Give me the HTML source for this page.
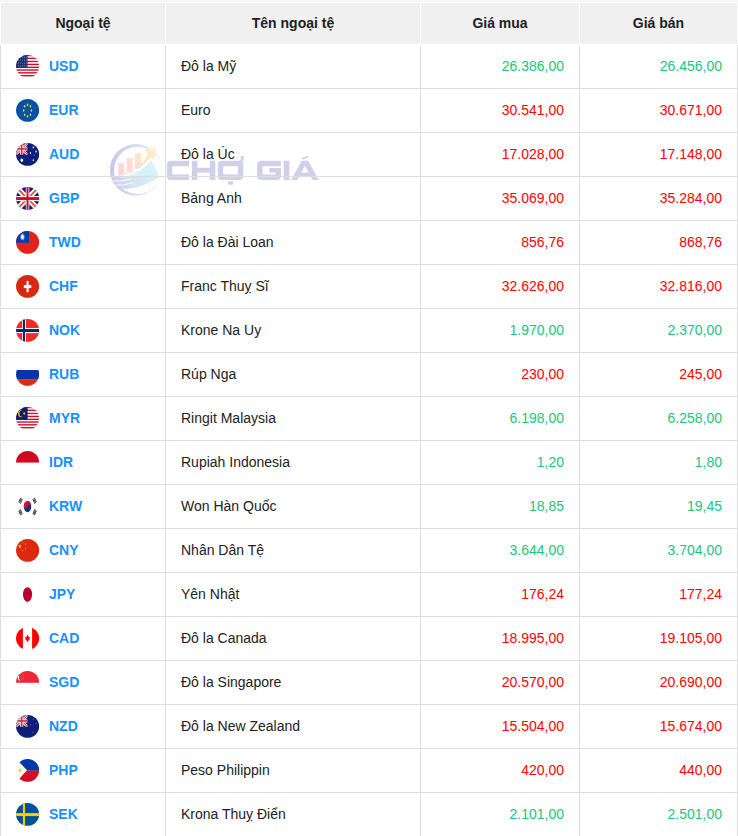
<!DOCTYPE html>
<html lang="vi"><head><meta charset="utf-8"><title>Tỷ giá ngoại tệ</title>
<style>
html,body{margin:0;padding:0;background:#fff;}
body{width:738px;height:836px;overflow:hidden;position:relative;font-family:"Liberation Sans",sans-serif;font-size:14px;color:#222;}
.topstrip{position:absolute;left:0;top:0;width:738px;height:2px;background:#f5f5f5;}
.wrap{position:absolute;left:0;top:2px;width:738px;}
table.tg{position:relative;z-index:1;border-collapse:collapse;table-layout:fixed;width:738px;margin:0;}
col.c1{width:165px}col.c2{width:255px}col.c3{width:159px}col.c4{width:158px}
.tg th{background:#f0f0f0;border:1px solid #fff;height:39px;padding:0 0 2px 0;font-weight:bold;font-size:14px;color:#222;text-align:center;vertical-align:middle;box-sizing:content-box;}
.tg td{border:1px solid #ddd;height:41px;padding:0 15px 2px 15px;vertical-align:middle;box-sizing:content-box;white-space:nowrap;}
.tg td.cc{padding-left:15px;}
.fl{display:inline-block;width:24px;height:24px;vertical-align:middle;margin-right:9px;position:relative;left:0;top:0.5px;}
.fl svg{display:block;width:24px;height:24px;}
.code{font-weight:bold;color:#1890ff;vertical-align:middle;}
.num{text-align:right;}
.g{color:#1cc47e}.r{color:#ff0000}
.wm{position:absolute;left:100px;top:136px;width:230px;height:66px;pointer-events:none;z-index:0;}
.wm svg{display:block;}
</style></head>
<body>
<div class="topstrip"></div>
<div class="wrap">
<table class="tg">
<colgroup><col class="c1"><col class="c2"><col class="c3"><col class="c4"></colgroup>
<thead><tr><th>Ngoại tệ</th><th>Tên ngoại tệ</th><th>Giá mua</th><th>Giá bán</th></tr></thead>
<tbody>
<tr><td class="cc"><span class="fl"><svg viewBox="0.4 -0.35 24 24"><defs><clipPath id="kUSD"><ellipse cx="12" cy="12" rx="11.55" ry="11.4"/></clipPath></defs><g clip-path="url(#kUSD)"><rect x="0" y="0" width="24" height="24" fill="#fff"/><rect x="0" y="0.46" width="24" height="1.4" fill="#c8102e"/><rect x="0" y="3.28" width="24" height="1.4" fill="#c8102e"/><rect x="0" y="6.4" width="24" height="1.4" fill="#c8102e"/><rect x="0" y="9.35" width="24" height="1.4" fill="#c8102e"/><rect x="0" y="12.3" width="24" height="1.4" fill="#c8102e"/><rect x="0" y="14.99" width="24" height="1.4" fill="#c8102e"/><rect x="0" y="17.8" width="24" height="1.4" fill="#c8102e"/><rect x="0" y="20.62" width="24" height="1.4" fill="#c8102e"/><rect x="0" y="0" width="11.98" height="13.52" fill="#1b2f6e"/><rect x="2.61" y="2.39" width="0.7" height="1.0" fill="#fff" opacity="0.6"/><rect x="4.56" y="2.39" width="0.7" height="1.0" fill="#fff" opacity="0.6"/><rect x="6.51" y="2.39" width="0.7" height="1.0" fill="#fff" opacity="0.6"/><rect x="8.68" y="2.39" width="0.7" height="1.0" fill="#fff" opacity="0.6"/><rect x="10.41" y="2.39" width="0.7" height="1.0" fill="#fff" opacity="0.6"/><rect x="2.61" y="5.3" width="0.7" height="1.0" fill="#fff" opacity="0.6"/><rect x="4.56" y="5.3" width="0.7" height="1.0" fill="#fff" opacity="0.6"/><rect x="6.51" y="5.3" width="0.7" height="1.0" fill="#fff" opacity="0.6"/><rect x="8.68" y="5.3" width="0.7" height="1.0" fill="#fff" opacity="0.6"/><rect x="10.41" y="5.3" width="0.7" height="1.0" fill="#fff" opacity="0.6"/><rect x="2.61" y="8.25" width="0.7" height="1.0" fill="#fff" opacity="0.6"/><rect x="4.56" y="8.25" width="0.7" height="1.0" fill="#fff" opacity="0.6"/><rect x="6.51" y="8.25" width="0.7" height="1.0" fill="#fff" opacity="0.6"/><rect x="8.68" y="8.25" width="0.7" height="1.0" fill="#fff" opacity="0.6"/><rect x="10.41" y="8.25" width="0.7" height="1.0" fill="#fff" opacity="0.6"/><rect x="2.61" y="11.07" width="0.7" height="1.0" fill="#fff" opacity="0.6"/><rect x="4.56" y="11.07" width="0.7" height="1.0" fill="#fff" opacity="0.6"/><rect x="6.51" y="11.07" width="0.7" height="1.0" fill="#fff" opacity="0.6"/><rect x="8.68" y="11.07" width="0.7" height="1.0" fill="#fff" opacity="0.6"/><rect x="10.41" y="11.07" width="0.7" height="1.0" fill="#fff" opacity="0.6"/></g></svg></span><a class="code">USD</a></td><td class="nm">Đô la Mỹ</td><td class="num g">26.386,00</td><td class="num g">26.456,00</td></tr>
<tr><td class="cc"><span class="fl"><svg viewBox="0.4 -0.35 24 24"><defs><clipPath id="kEUR"><ellipse cx="12" cy="12" rx="11.55" ry="11.4"/></clipPath></defs><g clip-path="url(#kEUR)"><rect x="0" y="0" width="24" height="24" fill="#0852a6"/><ellipse cx="11.93" cy="6.36" rx="0.8" ry="1.2" fill="#dcd728"/><ellipse cx="14.88" cy="7.88" rx="0.8" ry="1.2" fill="#dcd728"/><ellipse cx="15.84" cy="12.22" rx="0.8" ry="1.2" fill="#dcd728"/><ellipse cx="14.88" cy="16.47" rx="0.8" ry="1.2" fill="#dcd728"/><ellipse cx="11.93" cy="18.07" rx="0.8" ry="1.2" fill="#dcd728"/><ellipse cx="9.03" cy="16.47" rx="0.8" ry="1.2" fill="#dcd728"/><ellipse cx="8.08" cy="12.22" rx="0.8" ry="1.2" fill="#dcd728"/><ellipse cx="9.03" cy="7.88" rx="0.8" ry="1.2" fill="#dcd728"/></g></svg></span><a class="code">EUR</a></td><td class="nm">Euro</td><td class="num r">30.541,00</td><td class="num r">30.671,00</td></tr>
<tr><td class="cc"><span class="fl"><svg viewBox="0.4 -0.35 24 24"><defs><clipPath id="kAUD"><ellipse cx="12" cy="12" rx="11.55" ry="11.4"/></clipPath></defs><g clip-path="url(#kAUD)"><rect x="0" y="0" width="24" height="24" fill="#0c1f7a"/><g><clipPath id="ujc0"><rect x="0" y="0" width="11.98" height="12.43"/></clipPath><g clip-path="url(#ujc0)"><path d="M0,0.9 L11.98,12.43 M11.98,0.9 L0,12.43" stroke="#f3d9e0" stroke-width="2.6" fill="none"/><path d="M0,0.9 L11.98,12.43 M11.98,0.9 L0,12.43" stroke="#d9304d" stroke-width="1.0" fill="none"/><rect x="4.48" y="0" width="3.2" height="12.43" fill="#f6e3e8"/><rect x="0" y="4.88" width="11.98" height="3.4" fill="#f6e3e8"/><rect x="5.33" y="0" width="1.5" height="12.43" fill="#d92a45"/><rect x="0" y="5.78" width="11.98" height="1.6" fill="#d92a45"/></g></g><polygon points="6.21,15.55 6.67,16.61 7.58,16.42 7.23,17.54 7.92,18.36 7.03,18.71 6.97,19.92 6.21,19.23 5.45,19.92 5.39,18.71 4.50,18.36 5.19,17.54 4.84,16.42 5.75,16.61" fill="#fff"/><polygon points="17.70,3.76 17.94,4.30 18.36,4.25 18.24,4.87 18.53,5.35 18.13,5.59 18.07,6.23 17.70,5.90 17.33,6.23 17.27,5.59 16.87,5.35 17.16,4.87 17.04,4.25 17.46,4.30" fill="#e8ebf6"/><polygon points="20.43,7.97 20.67,8.51 21.09,8.46 20.97,9.08 21.26,9.56 20.86,9.80 20.80,10.44 20.43,10.12 20.06,10.44 20.00,9.80 19.60,9.56 19.89,9.08 19.77,8.46 20.19,8.51" fill="#e8ebf6"/><polygon points="14.88,9.40 15.12,9.94 15.54,9.89 15.42,10.51 15.71,10.99 15.31,11.23 15.25,11.87 14.88,11.54 14.51,11.87 14.45,11.23 14.05,10.99 14.34,10.51 14.22,9.89 14.64,9.94" fill="#e8ebf6"/><polygon points="17.70,16.55 17.94,17.09 18.36,17.04 18.24,17.66 18.53,18.14 18.13,18.38 18.07,19.02 17.70,18.70 17.33,19.02 17.27,18.38 16.87,18.14 17.16,17.66 17.04,17.04 17.46,17.09" fill="#e8ebf6"/><ellipse cx="18.92" cy="12.78" rx="0.45" ry="0.65" fill="#8f9bd0"/></g></svg></span><a class="code">AUD</a></td><td class="nm">Đô la Úc</td><td class="num r">17.028,00</td><td class="num r">17.148,00</td></tr>
<tr><td class="cc"><span class="fl"><svg viewBox="0.4 -0.35 24 24"><defs><clipPath id="kGBP"><ellipse cx="12" cy="12" rx="11.55" ry="11.4"/></clipPath></defs><g clip-path="url(#kGBP)"><rect x="0" y="0" width="24" height="24" fill="#0b1f7a"/><path d="M0.33000000000000007,0.620000000000001 L23.53,23.82 M23.53,0.620000000000001 L0.33000000000000007,23.82" stroke="#fff" stroke-width="5.5" fill="none"/><path d="M0.33000000000000007,0.620000000000001 L23.53,23.82 M23.53,0.620000000000001 L0.33000000000000007,23.82" stroke="#e2462f" stroke-width="1.6" fill="none"/><rect x="10.18" y="0" width="3.5" height="24" fill="#fff"/><rect x="0" y="9.62" width="24" height="5.2" fill="#fff"/><rect x="10.93" y="0" width="2.0" height="24" fill="#d00c2a"/><rect x="0" y="10.72" width="24" height="3.0" fill="#d00c2a"/></g></svg></span><a class="code">GBP</a></td><td class="nm">Bảng Anh</td><td class="num r">35.069,00</td><td class="num r">35.284,00</td></tr>
<tr><td class="cc"><span class="fl"><svg viewBox="0.4 -0.35 24 24"><defs><clipPath id="kTWD"><ellipse cx="12" cy="12" rx="11.55" ry="11.4"/></clipPath></defs><g clip-path="url(#kTWD)"><rect x="0" y="0" width="24" height="24" fill="#e1251b"/><rect x="0" y="0" width="13.37" height="12.43" fill="#0a3ba8"/><polygon points="6.86,2.68 7.33,3.87 8.11,3.20 8.13,4.59 9.03,4.63 8.60,5.85 9.36,6.58 8.60,7.31 9.03,8.53 8.13,8.57 8.11,9.96 7.33,9.29 6.86,10.48 6.39,9.29 5.61,9.96 5.59,8.57 4.69,8.53 5.12,7.31 4.36,6.58 5.12,5.85 4.69,4.63 5.59,4.59 5.61,3.20 6.39,3.87" fill="#7d9fdd"/><ellipse cx="6.86" cy="6.58" rx="1.55" ry="2.4" fill="#b9cdf0"/><ellipse cx="6.86" cy="6.58" rx="1.1" ry="1.65" fill="#fff"/></g></svg></span><a class="code">TWD</a></td><td class="nm">Đô la Đài Loan</td><td class="num r">856,76</td><td class="num r">868,76</td></tr>
<tr><td class="cc"><span class="fl"><svg viewBox="0.4 -0.35 24 24"><defs><clipPath id="kCHF"><ellipse cx="12" cy="12" rx="11.55" ry="11.4"/></clipPath></defs><g clip-path="url(#kCHF)"><rect x="0" y="0" width="24" height="24" fill="#d62a10"/><rect x="10.98" y="6.58" width="2.04" height="11.27" fill="#fff"/><rect x="8.25" y="10.7" width="7.42" height="3.04" fill="#fff"/></g></svg></span><a class="code">CHF</a></td><td class="nm">Franc Thuỵ Sĩ</td><td class="num r">32.626,00</td><td class="num r">32.816,00</td></tr>
<tr><td class="cc"><span class="fl"><svg viewBox="0.4 -0.35 24 24"><defs><clipPath id="kNOK"><ellipse cx="12" cy="12" rx="11.55" ry="11.4"/></clipPath></defs><g clip-path="url(#kNOK)"><rect x="0" y="0" width="24" height="24" fill="#ef2b23"/><rect x="6.51" y="0" width="3.73" height="24" fill="#fff"/><rect x="0" y="9.61" width="24" height="5.2" fill="#fff"/><rect x="7.29" y="0" width="2.08" height="24" fill="#0a2568"/><rect x="0" y="10.7" width="24" height="3.04" fill="#0a2568"/></g></svg></span><a class="code">NOK</a></td><td class="nm">Krone Na Uy</td><td class="num g">1.970,00</td><td class="num g">2.370,00</td></tr>
<tr><td class="cc"><span class="fl"><svg viewBox="0.4 -0.35 24 24"><defs><clipPath id="kRUB"><ellipse cx="12" cy="12" rx="11.55" ry="11.4"/></clipPath></defs><g clip-path="url(#kRUB)"><rect x="0" y="0" width="24" height="24" fill="#fff"/><rect x="0" y="7.66" width="24" height="9.11" fill="#0535a8"/><rect x="0" y="16.77" width="24" height="24" fill="#dd2c10"/></g></svg></span><a class="code">RUB</a></td><td class="nm">Rúp Nga</td><td class="num r">230,00</td><td class="num r">245,00</td></tr>
<tr><td class="cc"><span class="fl"><svg viewBox="0.4 -0.35 24 24"><defs><clipPath id="kMYR"><ellipse cx="12" cy="12" rx="11.55" ry="11.4"/></clipPath></defs><g clip-path="url(#kMYR)"><rect x="0" y="0" width="24" height="24" fill="#fff"/><rect x="0" y="0.46" width="24" height="1.4" fill="#c8102e"/><rect x="0" y="3.28" width="24" height="1.4" fill="#c8102e"/><rect x="0" y="6.4" width="24" height="1.4" fill="#c8102e"/><rect x="0" y="9.35" width="24" height="1.4" fill="#c8102e"/><rect x="0" y="12.3" width="24" height="1.4" fill="#c8102e"/><rect x="0" y="14.99" width="24" height="1.4" fill="#c8102e"/><rect x="0" y="17.8" width="24" height="1.4" fill="#c8102e"/><rect x="0" y="20.62" width="24" height="1.4" fill="#c8102e"/><rect x="0" y="0" width="11.98" height="13.52" fill="#0c1f6e"/><ellipse cx="5.13" cy="7.23" rx="2.69" ry="3.69" fill="#e9b90f"/><ellipse cx="6.51" cy="7.1" rx="2.6" ry="3.3" fill="#0c1f6e"/><polygon points="8.60,5.55 8.93,6.03 9.41,6.00 9.40,6.66 9.75,7.10 9.40,7.54 9.41,8.20 8.93,8.17 8.60,8.65 8.27,8.17 7.79,8.20 7.80,7.54 7.45,7.10 7.80,6.66 7.79,6.00 8.27,6.03" fill="#e9b90f"/></g></svg></span><a class="code">MYR</a></td><td class="nm">Ringit Malaysia</td><td class="num g">6.198,00</td><td class="num g">6.258,00</td></tr>
<tr><td class="cc"><span class="fl"><svg viewBox="0.4 -0.35 24 24"><defs><clipPath id="kIDR"><ellipse cx="12" cy="12" rx="11.55" ry="11.4"/></clipPath></defs><g clip-path="url(#kIDR)"><rect x="0" y="0" width="24" height="24" fill="#fff"/><rect x="0" y="0" width="24" height="12.22" fill="#ce0a1e"/></g></svg></span><a class="code">IDR</a></td><td class="nm">Rupiah Indonesia</td><td class="num g">1,20</td><td class="num g">1,80</td></tr>
<tr><td class="cc"><span class="fl"><svg viewBox="0.4 -0.35 24 24"><defs><clipPath id="kKRW"><ellipse cx="12" cy="12" rx="11.55" ry="11.4"/></clipPath></defs><g clip-path="url(#kKRW)"><rect x="0" y="0" width="24" height="24" fill="#fff"/><ellipse cx="11.93" cy="12.22" rx="3.69" ry="5.64" fill="#0a3478"/><path fill="#cd1033" d="M8.24,12.82 A3.69,5.64 0 0,1 15.62,11.620000000000001 A1.845,1.5 0 0,0 11.93,12.22 A1.845,1.5 0 0,1 8.24,12.82 Z"/><g transform="translate(4.91,6.36) scale(1,1.5) rotate(-56.3)" fill="#1a1a1a"><rect x="-1.85" y="-1.255" width="3.7" height="0.66"/><rect x="-1.85" y="-0.33" width="3.7" height="0.66"/><rect x="-1.85" y="0.595" width="3.7" height="0.66"/></g><g transform="translate(19.0,6.36) scale(1,1.5) rotate(56.3)" fill="#1a1a1a"><rect x="-1.85" y="-1.255" width="3.7" height="0.66"/><rect x="-1.85" y="-0.33" width="3.7" height="0.66"/><rect x="-1.85" y="0.595" width="3.7" height="0.66"/></g><g transform="translate(4.91,18.07) scale(1,1.5) rotate(56.3)" fill="#1a1a1a"><rect x="-1.85" y="-1.255" width="3.7" height="0.66"/><rect x="-1.85" y="-0.33" width="3.7" height="0.66"/><rect x="-1.85" y="0.595" width="3.7" height="0.66"/></g><g transform="translate(19.0,18.07) scale(1,1.5) rotate(-56.3)" fill="#1a1a1a"><rect x="-1.85" y="-1.255" width="3.7" height="0.66"/><rect x="-1.85" y="-0.33" width="3.7" height="0.66"/><rect x="-1.85" y="0.595" width="3.7" height="0.66"/></g></g></svg></span><a class="code">KRW</a></td><td class="nm">Won Hàn Quốc</td><td class="num g">18,85</td><td class="num g">19,45</td></tr>
<tr><td class="cc"><span class="fl"><svg viewBox="0.4 -0.35 24 24"><defs><clipPath id="kCNY"><ellipse cx="12" cy="12" rx="11.55" ry="11.4"/></clipPath></defs><g clip-path="url(#kCNY)"><rect x="0" y="0" width="24" height="24" fill="#de2910"/><polygon points="4.26,5.68 4.74,6.90 5.69,7.20 5.04,8.25 5.14,9.66 4.26,9.09 3.38,9.66 3.48,8.25 2.83,7.20 3.78,6.90" fill="#ffd400"/><polygon points="6.99,2.54 7.24,3.05 7.66,3.23 7.39,3.73 7.40,4.35 6.99,4.14 6.58,4.35 6.59,3.73 6.32,3.23 6.74,3.05" fill="#f7a20a"/><polygon points="10.03,4.71 10.28,5.22 10.70,5.40 10.43,5.90 10.44,6.52 10.03,6.31 9.62,6.52 9.63,5.90 9.36,5.40 9.78,5.22" fill="#f7a20a"/><polygon points="10.03,9.05 10.28,9.56 10.70,9.74 10.43,10.24 10.44,10.86 10.03,10.65 9.62,10.86 9.63,10.24 9.36,9.74 9.78,9.56" fill="#f7a20a"/><polygon points="6.99,11.22 7.24,11.73 7.66,11.91 7.39,12.41 7.40,13.03 6.99,12.82 6.58,13.03 6.59,12.41 6.32,11.91 6.74,11.73" fill="#f7a20a"/></g></svg></span><a class="code">CNY</a></td><td class="nm">Nhân Dân Tệ</td><td class="num g">3.644,00</td><td class="num g">3.704,00</td></tr>
<tr><td class="cc"><span class="fl"><svg viewBox="0.4 -0.35 24 24"><defs><clipPath id="kJPY"><ellipse cx="12" cy="12" rx="11.55" ry="11.4"/></clipPath></defs><g clip-path="url(#kJPY)"><rect x="0" y="0" width="24" height="24" fill="#fff"/><ellipse cx="11.93" cy="12.22" rx="4.55" ry="7.37" fill="#bc002d"/></g></svg></span><a class="code">JPY</a></td><td class="nm">Yên Nhật</td><td class="num r">176,24</td><td class="num r">177,24</td></tr>
<tr><td class="cc"><span class="fl"><svg viewBox="0.4 -0.35 24 24"><defs><clipPath id="kCAD"><ellipse cx="12" cy="12" rx="11.55" ry="11.4"/></clipPath></defs><g clip-path="url(#kCAD)"><rect x="0" y="0" width="24" height="24" fill="#fff"/><rect x="0" y="0" width="7.29" height="24" fill="#ff0000"/><rect x="16.49" y="0" width="24" height="24" fill="#ff0000"/><path fill="#ff0000" d="M11.93,8.1 L12.93,10.4 L14.23,10.7 L13.83,13.3 L12.43,14.6 L11.93,16.1 L11.43,14.6 L10.03,13.3 L9.629999999999999,10.7 L10.93,10.4 Z"/></g></svg></span><a class="code">CAD</a></td><td class="nm">Đô la Canada</td><td class="num r">18.995,00</td><td class="num r">19.105,00</td></tr>
<tr><td class="cc"><span class="fl"><svg viewBox="0.4 -0.35 24 24"><defs><clipPath id="kSGD"><ellipse cx="12" cy="12" rx="11.55" ry="11.4"/></clipPath></defs><g clip-path="url(#kSGD)"><rect x="0" y="0" width="24" height="24" fill="#fff"/><rect x="0" y="0" width="24" height="12.43" fill="#ed2939"/><path fill="#fff" d="M2.44,5.63 Q1.31,9.18 4.78,10.92 Q2.96,8.96 3.39,5.63 Z"/><ellipse cx="6.43" cy="4.41" rx="0.45" ry="0.55" fill="#fff" opacity="0.35"/><ellipse cx="4.91" cy="6.15" rx="0.45" ry="0.55" fill="#fff" opacity="0.35"/><ellipse cx="7.95" cy="6.15" rx="0.45" ry="0.55" fill="#fff" opacity="0.35"/><ellipse cx="5.78" cy="8.53" rx="0.45" ry="0.55" fill="#fff" opacity="0.35"/><ellipse cx="7.51" cy="8.53" rx="0.45" ry="0.55" fill="#fff" opacity="0.35"/></g></svg></span><a class="code">SGD</a></td><td class="nm">Đô la Singapore</td><td class="num r">20.570,00</td><td class="num r">20.690,00</td></tr>
<tr><td class="cc"><span class="fl"><svg viewBox="0.4 -0.35 24 24"><defs><clipPath id="kNZD"><ellipse cx="12" cy="12" rx="11.55" ry="11.4"/></clipPath></defs><g clip-path="url(#kNZD)"><rect x="0" y="0" width="24" height="24" fill="#0c1f7a"/><g><clipPath id="ujc1"><rect x="0" y="0" width="11.98" height="12.43"/></clipPath><g clip-path="url(#ujc1)"><path d="M0,0.9 L11.98,12.43 M11.98,0.9 L0,12.43" stroke="#f3d9e0" stroke-width="2.6" fill="none"/><path d="M0,0.9 L11.98,12.43 M11.98,0.9 L0,12.43" stroke="#d9304d" stroke-width="1.0" fill="none"/><rect x="4.48" y="0" width="3.2" height="12.43" fill="#f6e3e8"/><rect x="0" y="4.88" width="11.98" height="3.4" fill="#f6e3e8"/><rect x="5.33" y="0" width="1.5" height="12.43" fill="#d92a45"/><rect x="0" y="5.78" width="11.98" height="1.6" fill="#d92a45"/></g></g><polygon points="17.70,3.68 17.98,4.32 18.46,4.54 18.16,5.16 18.17,5.94 17.70,5.68 17.23,5.94 17.24,5.16 16.94,4.54 17.42,4.32" fill="#c01f50"/><polygon points="20.43,8.02 20.71,8.66 21.19,8.88 20.89,9.50 20.90,10.28 20.43,10.02 19.96,10.28 19.97,9.50 19.67,8.88 20.15,8.66" fill="#c01f50"/><polygon points="14.88,9.45 15.16,10.09 15.64,10.31 15.34,10.93 15.35,11.71 14.88,11.45 14.41,11.71 14.42,10.93 14.12,10.31 14.60,10.09" fill="#c01f50"/><polygon points="17.70,16.60 17.98,17.24 18.46,17.46 18.16,18.08 18.17,18.86 17.70,18.60 17.23,18.86 17.24,18.08 16.94,17.46 17.42,17.24" fill="#c01f50"/></g></svg></span><a class="code">NZD</a></td><td class="nm">Đô la New Zealand</td><td class="num r">15.504,00</td><td class="num r">15.674,00</td></tr>
<tr><td class="cc"><span class="fl"><svg viewBox="0.4 -0.35 24 24"><defs><clipPath id="kPHP"><ellipse cx="12" cy="12" rx="11.55" ry="11.4"/></clipPath></defs><g clip-path="url(#kPHP)"><rect x="0" y="0" width="24" height="24" fill="#fff"/><polygon points="0.14,24.36 24,24.36 24,11.82 11.32,11.82" fill="#ce1126"/><polygon points="0.14,0.07 24,0.07 24,12.22 11.72,12.22" fill="#0338a8"/><ellipse cx="4.35" cy="12.13" rx="1.15" ry="1.9" fill="#f9d010"/></g></svg></span><a class="code">PHP</a></td><td class="nm">Peso Philippin</td><td class="num r">420,00</td><td class="num r">440,00</td></tr>
<tr><td class="cc"><span class="fl"><svg viewBox="0.4 -0.35 24 24"><defs><clipPath id="kSEK"><ellipse cx="12" cy="12" rx="11.55" ry="11.4"/></clipPath></defs><g clip-path="url(#kSEK)"><rect x="0" y="0" width="24" height="24" fill="#005293"/><rect x="7.29" y="0" width="2.08" height="24" fill="#fecb00"/><rect x="0" y="10.7" width="24" height="3.04" fill="#fecb00"/></g></svg></span><a class="code">SEK</a></td><td class="nm">Krona Thuỵ Điển</td><td class="num g">2.101,00</td><td class="num g">2.501,00</td></tr>
</tbody></table>
<div class="wm"><svg viewBox="100 138 230 66" width="230" height="66">
<defs>
<linearGradient id="wg1" x1="0" x2="1" y1="0" y2="0"><stop offset="0" stop-color="#cbc7e7"/><stop offset="0.5" stop-color="#d3def0"/><stop offset="1" stop-color="#e3f6f9"/></linearGradient>
<linearGradient id="wg2" x1="0" x2="1" y1="1" y2="0"><stop offset="0" stop-color="#fbd2d6"/><stop offset="0.6" stop-color="#fde3d0"/><stop offset="1" stop-color="#fef1c6"/></linearGradient>
<linearGradient id="wg3" x1="0" x2="1" y1="0" y2="0"><stop offset="0" stop-color="#cdc9e7"/><stop offset="0.5" stop-color="#d3e6f2"/><stop offset="1" stop-color="#d6f1f6"/></linearGradient>
<clipPath id="wdisc"><circle cx="135.9" cy="169.9" r="25.6"/></clipPath>
</defs>
<path fill="url(#wg1)" fill-rule="evenodd" d="M109.9,169.9 a25.9,25.9 0 1,0 51.8,0 a25.9,25.9 0 1,0 -51.8,0 z M114.1,170.4 a23.6,23.6 0 1,0 47.2,0 a23.6,23.6 0 1,0 -47.2,0 z"/>
<path fill="url(#wg2)" d="M118.31,163.33 H123.95 V176.16 H118.31 Z M126.72,158.12 H132.62 V173.13 H126.72 Z M135.05,153.18 H141.12 V168.36 H135.05 Z M118.31,176.16 Q136.96,172.69 147.8,154.91 L144.76,149.27 L156.21,148.06 L153.96,159.86 L151.09,157.25 Q138.69,171.39 124.12,173.13 Z"/>
<g clip-path="url(#wdisc)">
<path fill="#d8f1f7" d="M125.86,176.16 Q142.16,172.69 150.83,159.86 L158.81,174.86 Q147.37,183.1 132.62,186.57 Z"/>
<path fill="none" stroke="#eefafc" stroke-width="0.5" stroke-dasharray="1.2 0.8" d="M132.62,173.13 L149.97,163.15 L156.04,174.43"/>
<circle cx="144.07" cy="175.99" r="2.5" fill="#edf8f4"/>
<circle cx="144.07" cy="175.99" r="1.2" fill="#dcedc8"/>
<path fill="url(#wg3)" d="M110.07,176.59 Q130.02,178.76 144.76,174.43 L159.51,176.16 Q149.1,186.57 125.68,189.17 Q115.27,186.57 110.07,176.59 Z"/>
<path fill="none" stroke="#fff" stroke-width="0.9" stroke-linecap="round" d="M113.11,180.93 Q121.35,181.8 130.89,179.2 M115.71,185.27 Q123.95,185.7 133.05,182.67 M125.25,189.86 Q138.69,189.17 152.57,181.37"/>
</g>
<path d="M189,160.75 H170.9 A4,4 0 0 0 166.9,164.75 V176 A4,4 0 0 0 170.9,180 H189 V174.6 H173.6 A1.3,1.3 0 0 1 172.3,173.3 V167.45 A1.3,1.3 0 0 1 173.6,166.15 H189 Z" fill="#d0d0e8" fill-rule="nonzero"/>
<path d="M192,160.75 H197.4 V167.7 H209.9 V160.75 H215.3 V180 H209.9 V172.4 H197.4 V180 H192 Z" fill="#d0d0e8" fill-rule="nonzero"/>
<path d="M221.8,160.75 H239.3 A4,4 0 0 1 243.3,164.75 V176 A4,4 0 0 1 239.3,180 H221.8 A4,4 0 0 1 217.8,176 V164.75 A4,4 0 0 1 221.8,160.75 Z M224.5,166.15 A1.3,1.3 0 0 0 223.2,167.45 V173.3 A1.3,1.3 0 0 0 224.5,174.6 H236.6 A1.3,1.3 0 0 0 237.9,173.3 V167.45 A1.3,1.3 0 0 0 236.6,166.15 Z" fill="#d0d0e8" fill-rule="evenodd"/>
<path fill="#d0d0e8" d="M238.9,160.9 Q241.2,160.3 240.9,156.2 L243.9,156 Q244.6,161.2 240.6,162.6 Z"/>
<rect x="227.9" y="181.4" width="5.1" height="3.2" fill="#d0d0e8"/>
<path d="M280.9,160.75 H261.1 A4,4 0 0 0 257.1,164.75 V176 A4,4 0 0 0 261.1,180 H276.9 A4,4 0 0 0 280.9,176 V168.1 H269.3 V172.4 H275.5 V174.6 H263.8 A1.3,1.3 0 0 1 262.5,173.3 V167.45 A1.3,1.3 0 0 1 263.8,166.15 H280.9 Z" fill="#d0d0e8" fill-rule="nonzero"/>
<rect x="283.7" y="160.75" width="5.7" height="19.25" fill="#d0d0e8"/>
<path fill="#d0d0e8" fill-rule="evenodd" d="M291.2,180 L301.6,160.75 H308.3 L318.7,180 H312.6 L310.8,176.7 H299.1 L297.3,180 Z M301.3,172.4 H308.6 L304.95,165.7 Z"/>
<path fill="#d0d0e8" d="M301.6,157.9 L307.6,155.5 L308.3,157.2 L302.3,159.7 Z"/>
</svg></div>
</div>
</body></html>
